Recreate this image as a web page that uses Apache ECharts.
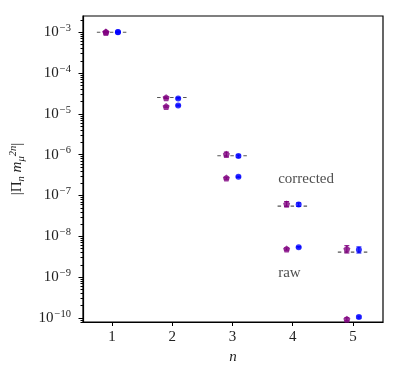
<!DOCTYPE html>
<html>
<head>
<meta charset="utf-8">
<script src="https://cdn.jsdelivr.net/npm/echarts@6/dist/echarts.min.js"></script>
<style>
  html, body { margin: 0; padding: 0; background: #fff; }
  #main { width: 399px; height: 376px; }
</style>
</head>
<body>
<div id="main"></div>
<script>
// n values
var nValues = [1, 2, 3, 4, 5];
// corrected values (purple / blue) and their errors
var purpleCorrected = [1.02e-3, 2.5e-5, 1.02e-6, 6.2e-8, 4.9e-9];
var purpleCorrErr   = [3e-5, 1.2e-6, 1.4e-7, 9e-9, 1.0e-9];
var blueCorrected   = [1.02e-3, 2.4e-5, 9.3e-7, 6.0e-8, 4.7e-9];
var blueCorrErr     = [2e-5, 8e-7, 6e-8, 6e-9, 8e-10];
// raw values
var purpleRaw    = [1.0e-3, 1.52e-5, 2.67e-7, 4.9e-9, 9.3e-11];
var purpleRawErr = [2e-5, 6e-7, 1.5e-8, 3e-10, 8e-12];
var blueRaw      = [1.0e-3, 1.61e-5, 2.89e-7, 5.4e-9, 1.05e-10];
var blueRawErr   = [1e-5, 5e-7, 1e-8, 2e-10, 6e-12];
// dashed reference levels
var refValues = [1.0e-3, 2.52e-5, 9.4e-7, 5.5e-8, 4.1e-9];
// axis ticks
var xTicks = [1, 2, 3, 4, 5];
var yMajorExp = [-10, -9, -8, -7, -6, -5, -4, -3];

var purple = '#800080';
var blue = '#0000ff';
var font = 'Liberation Serif';
var fs = 15;

var yMin = -10.1, yMax = -2.6;
var minorTicks = [];
for (var e = -11; e <= -3; e++) {
  for (var k = 2; k <= 9; k++) {
    var v = e + Math.log10(k);
    if (v > yMin && v < yMax) minorTicks.push(v);
  }
}

var pentagon = 'path://M0,-1 L0.951,-0.309 L0.588,0.809 L-0.588,0.809 L-0.951,-0.309 Z';

function pts(vals, shift) {
  return nValues.map(function (n, i) { return [n + shift, vals[i]]; });
}
function errPts(vals, errs, shift) {
  return nValues.map(function (n, i) { return [n + shift, vals[i] - errs[i], vals[i] + errs[i]]; });
}

function errorBars(data, color) {
  return {
    type: 'custom',
    xAxisIndex: 0, yAxisIndex: 0,
    data: data,
    z: 3,
    renderItem: function (params, api) {
      var lo = api.coord([api.value(0), api.value(1)]);
      var hi = api.coord([api.value(0), api.value(2)]);
      var w = 2.5;
      var st = { stroke: color, lineWidth: 1 };
      return {
        type: 'group',
        children: [
          { type: 'line', shape: { x1: lo[0], y1: lo[1], x2: hi[0], y2: hi[1] }, style: st },
          { type: 'line', shape: { x1: lo[0] - w, y1: lo[1], x2: lo[0] + w, y2: lo[1] }, style: st },
          { type: 'line', shape: { x1: hi[0] - w, y1: hi[1], x2: hi[0] + w, y2: hi[1] }, style: st }
        ]
      };
    }
  };
}

var chart = echarts.init(document.getElementById('main'));
var option = {
  backgroundColor: '#fff',
  animation: false,
  grid: { left: 82, right: 16, top: 16, bottom: 54, show: true, borderColor: '#000', borderWidth: 1.2, backgroundColor: 'transparent' },
  xAxis: {
    type: 'value', min: 0.52, max: 5.5,
    name: 'n', nameLocation: 'middle', nameGap: 27,
    nameTextStyle: { fontFamily: font, fontStyle: 'italic', fontSize: fs, color: '#222' },
    axisLine: { lineStyle: { color: '#000', width: 1.2 } },
    axisTick: { customValues: xTicks, length: 4, lineStyle: { color: '#000' } },
    axisLabel: { customValues: xTicks, margin: 8, fontFamily: font, fontSize: fs, color: '#222' },
    splitLine: { show: false }
  },
  yAxis: [
    {
      type: 'log', logBase: 10,
      min: Math.pow(10, yMin), max: Math.pow(10, yMax),
      name: '{a||Π}{sub|n}{a| }{i|m}{sub|μ}{sup|2n}{a||}',
      nameLocation: 'middle', nameGap: 56, nameRotate: 90,
      nameTextStyle: {
        fontFamily: font, fontSize: fs, color: '#222',
        rich: {
          a: { fontFamily: font, fontSize: fs, color: '#222' },
          i: { fontFamily: font, fontSize: fs, fontStyle: 'italic', color: '#222' },
          sub: { fontFamily: font, fontSize: 10.5, fontStyle: 'italic', color: '#222', padding: [7, 0, 0, 0] },
          sup: { fontFamily: font, fontSize: 10.5, fontStyle: 'italic', color: '#222', padding: [0, 0, 8, 0] }
        }
      },
      axisLine: { lineStyle: { color: '#000', width: 1.2 } },
      axisTick: { show: false },
      axisLabel: {
        margin: 12, showMinLabel: false, showMaxLabel: false,
        formatter: function (val) {
          var l = Math.log10(val);
          var r = Math.round(l);
          if (Math.abs(l - r) > 0.01) return '';
          return '{b|10}{s|−' + Math.abs(r) + '}';
        },
        rich: {
          b: { fontFamily: font, fontSize: fs, color: '#222' },
          s: { fontFamily: font, fontSize: 10.5, color: '#222', padding: [0, 0, 8, 1] }
        }
      },
      splitLine: { show: false }
    },
    {
      type: 'value', min: yMin, max: yMax, position: 'left',
      axisLine: { show: false },
      axisTick: { customValues: yMajorExp, length: 4.5, lineStyle: { color: '#000' } },
      axisLabel: { show: false },
      splitLine: { show: false }
    },
    {
      type: 'value', min: yMin, max: yMax, position: 'left',
      axisLine: { show: false },
      axisTick: { customValues: minorTicks, length: 2.5, lineStyle: { color: '#000' } },
      axisLabel: { show: false },
      splitLine: { show: false }
    }
  ],
  series: [
    {
      type: 'custom',
      data: nValues.map(function (n, i) { return [n - 0.25, n + 0.25, refValues[i]]; }),
      z: 1,
      renderItem: function (params, api) {
        var a = api.coord([api.value(0), api.value(2)]);
        var b = api.coord([api.value(1), api.value(2)]);
        return {
          type: 'line',
          shape: { x1: a[0], y1: a[1], x2: b[0], y2: b[1] },
          style: { stroke: '#555', lineWidth: 1.1, lineDash: [3.5, 3] }
        };
      }
    },
    errorBars(errPts(purpleCorrected, purpleCorrErr, -0.1), purple),
    errorBars(errPts(purpleRaw, purpleRawErr, -0.1), purple),
    errorBars(errPts(blueCorrected, blueCorrErr, 0.1), blue),
    errorBars(errPts(blueRaw, blueRawErr, 0.1), blue),
    { type: 'scatter', data: pts(purpleCorrected, -0.1), symbol: pentagon, symbolSize: 7, itemStyle: { color: purple }, z: 4 },
    { type: 'scatter', data: pts(purpleRaw, -0.1), symbol: pentagon, symbolSize: 7, itemStyle: { color: purple }, z: 4 },
    { type: 'scatter', data: pts(blueCorrected, 0.1), symbol: 'circle', symbolSize: 6, itemStyle: { color: blue }, z: 4 },
    { type: 'scatter', data: pts(blueRaw, 0.1), symbol: 'circle', symbolSize: 6, itemStyle: { color: blue }, z: 4 },
    {
      type: 'scatter', symbolSize: 0, z: 5,
      data: [
        { value: [3.76, 2.5e-7], name: 'corrected' },
        { value: [3.76, 1.26e-9], name: 'raw' }
      ],
      label: {
        show: true, position: 'right', distance: 0,
        formatter: '{b}', fontFamily: font, fontSize: fs, color: '#222'
      }
    }
  ]
};
chart.setOption(option);
</script>
</body>
</html>
